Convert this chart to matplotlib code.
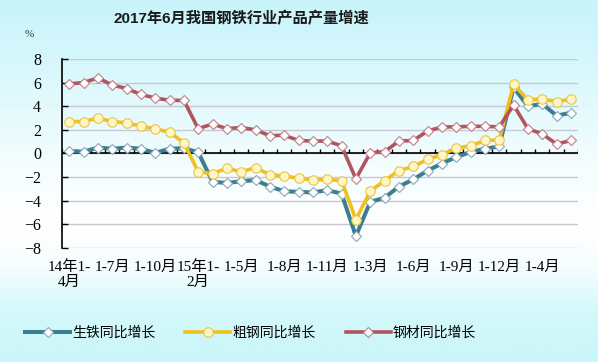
import matplotlib
matplotlib.use('Agg')
import matplotlib.pyplot as plt
import numpy as np
from matplotlib.colors import LinearSegmentedColormap
from matplotlib.font_manager import FontProperties

plt.rcParams['font.family'] = ['Liberation Serif', 'Noto Sans CJK SC', 'DejaVu Sans']
plt.rcParams['axes.unicode_minus'] = True

# ---------------- data ----------------
categories = (['14年1-4月', '1-5月', '1-6月', '1-7月', '1-8月', '1-9月', '1-10月', '1-11月', '1-12月'] +
              ['15年1-2月'] + ['1-%d月' % m for m in range(3, 13)] +
              ['16年1-2月'] + ['1-%d月' % m for m in range(3, 13)] +
              ['17年1-2月', '1-3月', '1-4月', '1-5月', '1-6月'])
tick_idx = list(range(0, 36, 3))
tick_labels = ['14年1-\n4月', '1-7月', '1-10月', '15年1-\n2月', '1-5月', '1-8月',
               '1-11月', '1-3月', '1-6月', '1-9月', '1-12月', '1-4月']

pig_iron = [0.2, 0.15, 0.5, 0.4, 0.5, 0.4, 0.05, 0.4, 0.45,
            0.1, -2.4, -2.5, -2.35, -2.25, -2.8, -3.2, -3.25, -3.3, -3.1, -3.4,
            -7.0, -4.1, -3.75, -2.8, -2.2, -1.45, -0.85, -0.3, 0.12, 0.4, 0.6,
            5.6, 4.0, 4.2, 3.2, 3.45]
crude_steel = [2.7, 2.7, 3.0, 2.7, 2.6, 2.3, 2.1, 1.8, 0.9,
               -1.55, -1.7, -1.25, -1.55, -1.2, -1.8, -1.9, -2.1, -2.25, -2.2, -2.3,
               -5.6, -3.2, -2.3, -1.45, -1.1, -0.5, -0.1, 0.45, 0.65, 1.1, 1.15,
               5.85, 4.55, 4.6, 4.4, 4.6]
steel_products = [5.9, 6.0, 6.4, 5.8, 5.5, 5.0, 4.7, 4.5, 4.5,
                  2.1, 2.5, 2.1, 2.2, 2.0, 1.5, 1.55, 1.1, 1.05, 1.05, 0.65,
                  -2.15, 0.05, 0.15, 1.05, 1.1, 1.9, 2.25, 2.25, 2.3, 2.3, 2.25,
                  4.1, 2.1, 1.65, 0.8, 1.1]
series_names = ['生铁同比增长', '粗钢同比增长', '钢材同比增长']

# ---------------- figure ----------------
fig = plt.figure(figsize=(5.98, 3.62), dpi=100)

# background gradient
bg = fig.add_axes([0, 0, 1, 1], zorder=-10)
stops = [(0.0, (200/255, 244/255, 250/255)),
         (0.15, (212/255, 247/255, 252/255)),
         (0.45, (244/255, 253/255, 254/255)),
         (0.62, (255/255, 255/255, 255/255)),
         (0.74, (246/255, 253/255, 254/255)),
         (0.86, (212/255, 248/255, 250/255)),
         (1.0, (202/255, 246/255, 250/255))]
cmap = LinearSegmentedColormap.from_list('bg', stops)
grad = np.linspace(0, 1, 256).reshape(-1, 1)
bg.imshow(grad, aspect='auto', cmap=cmap, extent=[0, 1, 0, 1], origin='upper')
bg.axis('off')

ax = fig.add_axes([0.1037, 0.315, 0.863, 0.522])
ax.patch.set_alpha(0)
x = np.arange(len(categories))

teal = '#3b7f8e'
yellow = '#f0c01c'
red = '#b2545e'

ax.plot(x, pig_iron, color=teal, lw=2.9, marker='D', ms=5.2, mfc='white',
        mec='#8aa8b8', mew=0.8, zorder=4)
ax.plot(x, crude_steel, color=yellow, lw=2.6, marker='o', ms=6.8, mfc='#fff6c4',
        mec='#e8c44a', mew=0.8, zorder=5)
ax.plot(x, steel_products, color=red, lw=2.6, marker='D', ms=5.2, mfc='white',
        mec='#c08088', mew=0.8, zorder=6)

ax.set_xlim(-0.5, 35.5)
ax.set_ylim(-8, 8)
ax.set_yticks(range(-8, 9, 2))
ax.yaxis.grid(True, color='#c6c8d4', lw=1)
ax.set_axisbelow(True)
for s in ['top', 'right', 'bottom']:
    ax.spines[s].set_visible(False)
ax.spines['left'].set_color('black')
ax.spines['left'].set_linewidth(1.2)
ax.tick_params(axis='y', direction='in', length=4, width=1, pad=15, labelsize=11.5,
               colors='black')

ax.set_xticks(tick_idx)
ax.set_xticklabels(tick_labels, fontsize=11, linespacing=1.1)
ax.tick_params(axis='x', length=0, pad=9)

# zero axis line with category ticks
ax.axhline(0, color='black', lw=1.2, zorder=3)
ax.vlines(np.arange(-0.5, 36, 1), 0, 0.35, color='black', lw=1, zorder=3)

# title and unit
fig.text(0.403, 0.949, '2017年6月我国钢铁行业产品产量增速', ha='center', va='center',
         fontsize=11, fontweight='bold', color='#1a1a1a',
         family=['Liberation Sans', 'Noto Sans CJK SC'])
fig.text(0.049, 0.905, '%', ha='center', va='center', fontsize=8, color='#333333',
         family=['Liberation Serif'])

# legend
handles = ax.get_lines()[:3]
leg = fig.legend(handles, series_names, loc='center left', bbox_to_anchor=(0.042, 0.08),
                 ncol=3, frameon=False, borderpad=0, borderaxespad=0,
                 handlelength=3.24, handletextpad=0.15, columnspacing=2.16,
                 prop=FontProperties(family=['Noto Sans CJK SC'], size=10))

fig.savefig('out.png', dpi=100)
